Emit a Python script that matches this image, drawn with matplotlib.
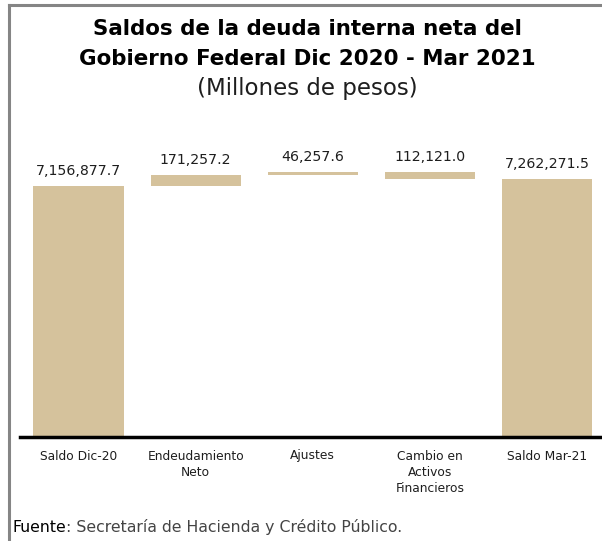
import numpy as np
import matplotlib.pyplot as plt
from matplotlib.lines import Line2D

# Data (millones de pesos)
categories = ["Saldo Dic-20", "Endeudamiento\nNeto", "Ajustes",
              "Cambio en\nActivos\nFinancieros", "Saldo Mar-21"]
values = [7156877.7, 171257.2, 46257.6, -112121.0, 7262271.5]
labels = ["7,156,877.7", "171,257.2", "46,257.6", "112,121.0", "7,262,271.5"]
is_total = [True, False, False, False, True]

bar_color = "#D5C29C"
text_color = "#1e1e1e"
font = "DejaVu Sans"

# waterfall bottoms / heights
bottoms, heights = [], []
running = 0.0
for v, tot in zip(values, is_total):
    if tot:
        bottoms.append(0.0)
        heights.append(v)
        running = v
    else:
        if v >= 0:
            bottoms.append(running)
            heights.append(v)
        else:
            bottoms.append(running + v)
            heights.append(-v)
        running += v
tops = [b + h for b, h in zip(bottoms, heights)]

fig = plt.figure(figsize=(6.02, 5.41), dpi=100)

# frame lines (top and left)
fig.add_artist(Line2D([9/602, 1], [1 - 5/541, 1 - 5/541], color="#858585", lw=2.2))
fig.add_artist(Line2D([9/602, 9/602], [0, 1 - 5/541], color="#858585", lw=2.2))

fig.text(0.51, 1 - 29/541, "Saldos de la deuda interna neta del", ha="center", va="center",
         fontsize=15.4, fontweight="bold", color="black", family=font)
fig.text(0.51, 1 - 59/541, "Gobierno Federal Dic 2020 - Mar 2021", ha="center", va="center",
         fontsize=15.4, fontweight="bold", color="black", family=font)
fig.text(0.51, 1 - 88/541, "(Millones de pesos)", ha="center", va="center",
         fontsize=16.5, color=text_color, family=font)

ax = fig.add_axes([20/602, 1 - 437/541, 582/602, 327/541])
x = np.arange(len(categories))
ax.bar(x, heights, bottom=bottoms, width=0.77, color=bar_color, zorder=1)
ax.set_xlim(-0.5, 4.47)
ax.set_ylim(3.30e6, 3.30e6 + 327 / 65 * 1e6)

for xi, t, lab in zip(x, tops, labels):
    ax.annotate(lab, (xi, t), xytext=(0, 6), textcoords="offset points",
                ha="center", va="bottom", fontsize=10.2, color=text_color, family=font)

for s in ["top", "right", "left"]:
    ax.spines[s].set_visible(False)
ax.spines["bottom"].set_linewidth(2.5)
ax.spines["bottom"].set_color("black")
ax.spines["bottom"].set_zorder(3)
ax.set_yticks([])
ax.set_xticks(x)
ax.set_xticklabels(categories, fontsize=8.8, color=text_color, family=font, linespacing=1.3)
ax.tick_params(axis="x", length=0, pad=9)

src = fig.text(12/602, 1 - 527/541, "Fuente", ha="left", va="center", fontsize=11.3,
               color="black", family=font)
fig.canvas.draw()
w = src.get_window_extent().width
fig.text(12/602 + w/602, 1 - 527/541, ": Secretaría de Hacienda y Crédito Público.",
         ha="left", va="center", fontsize=11.3, color="#444444", family=font)

fig.savefig("out.png", dpi=100)
